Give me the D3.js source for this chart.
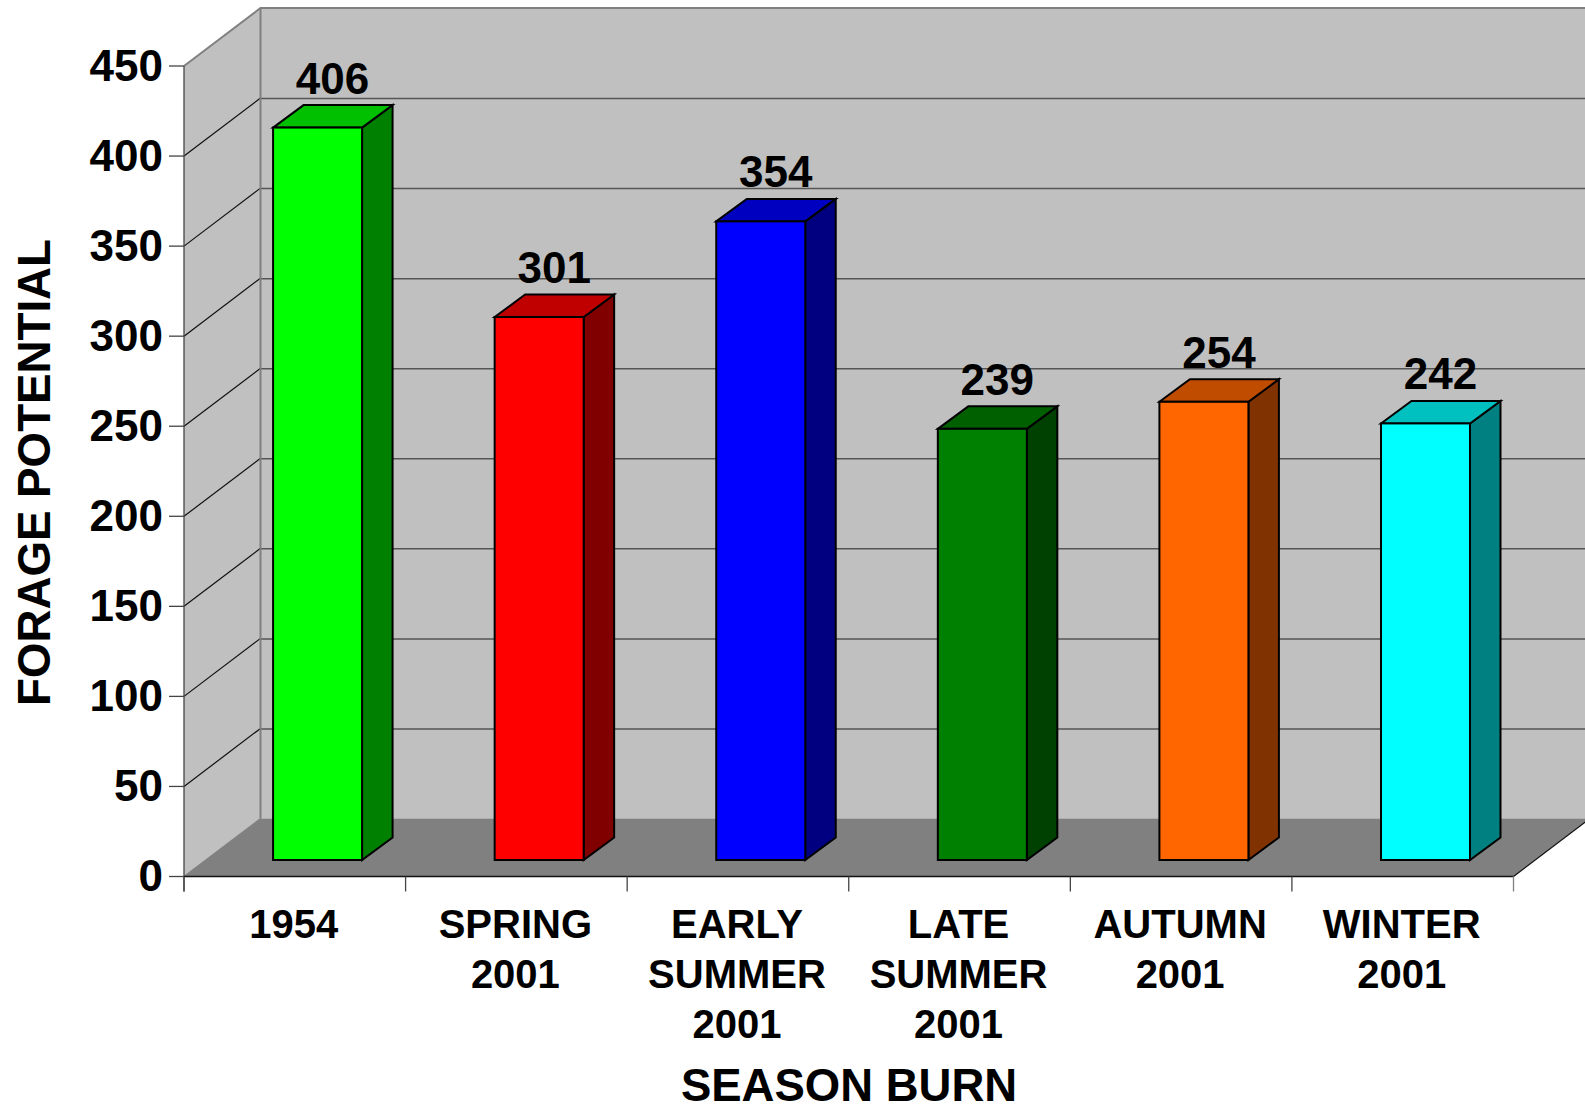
<!DOCTYPE html>
<html><head><meta charset="utf-8">
<style>html,body{margin:0;padding:0;background:#fff}svg{display:block}text{font-family:"Liberation Sans",Arial,sans-serif;font-weight:bold;fill:#000}</style>
<script src="https://cdn.jsdelivr.net/npm/d3@7"></script>
</head><body><div id="c"></div>
<script>
const categories = [["1954"],["SPRING","2001"],["EARLY","SUMMER","2001"],["LATE","SUMMER","2001"],["AUTUMN","2001"],["WINTER","2001"]];
const values = [406,301,354,239,254,242];
const frontColors = ["#00ff00","#ff0000","#0000ff","#008000","#ff6600","#00ffff"];
const topColors = ["#00c000","#c00000","#0000c0","#006000","#c04c00","#00c0c0"];
const sideColors = ["#008000","#800000","#000080","#004000","#803300","#008080"];
const yTicks = [0,50,100,150,200,250,300,350,400,450];

const W=1585,H=1105;
const svg=d3.select("#c").append("svg").attr("width",W).attr("height",H);
const x0=184,x1=1513.5,dx=76.5,dy=58;
const y=d3.scaleLinear().domain([0,450]).range([876.5,66]);
const yBar=d3.scaleLinear().domain([0,450]).range([860,860-450*1.804]);
const x=d3.scaleBand().domain(d3.range(categories.length)).range([x0,x1]);
const poly=p=>p.map(q=>q.join(",")).join(" ");

// walls
svg.append("polygon").attr("points",poly([[x0+dx,y(450)-dy],[x1+dx,y(450)-dy],[x1+dx,y(0)-dy],[x0+dx,y(0)-dy]])).attr("fill","#c0c0c0");
svg.append("polygon").attr("points",poly([[x0,y(450)],[x0+dx,y(450)-dy],[x0+dx,y(0)-dy],[x0,y(0)]])).attr("fill","#c0c0c0");
svg.append("polygon").attr("points",poly([[x0,y(0)],[x0+dx,y(0)-dy],[x1+dx,y(0)-dy],[x1,y(0)]])).attr("fill","#808080");

// back gridlines
svg.selectAll(".g").data(yTicks.slice(1,-1)).join("line")
 .attr("x1",x0+dx).attr("x2",x1+dx).attr("y1",d=>y(d)-dy+0.5).attr("y2",d=>y(d)-dy+0.5)
 .attr("stroke","#555").attr("stroke-width",1.5);
// side gridlines
svg.selectAll(".s").data(yTicks.slice(1,-1)).join("line")
 .attr("x1",x0).attr("x2",x0+dx).attr("y1",d=>y(d)).attr("y2",d=>y(d)-dy)
 .attr("stroke","#111").attr("stroke-width",1.2);
// wall outline
svg.append("path").attr("d",`M${x0},${y(450)}L${x0+dx},${y(450)-dy}L${W+10},${y(450)-dy}M${x0+dx},${y(450)-dy}V${y(0)-dy}`)
 .attr("fill","none").attr("stroke","#808080").attr("stroke-width",2);
svg.append("line").attr("x1",x0).attr("x2",x0+dx).attr("y1",y(0)).attr("y2",y(0)-dy).attr("stroke","#808080").attr("stroke-width",1.2);

// axes
svg.append("line").attr("x1",x0).attr("x2",x0).attr("y1",y(450)).attr("y2",y(0)+15).attr("stroke","#444").attr("stroke-width",1.3);
svg.selectAll(".yt").data(yTicks).join("line").attr("x1",x0-15).attr("x2",x0).attr("y1",d=>y(d)).attr("y2",d=>y(d)).attr("stroke","#444").attr("stroke-width",1.3);
svg.append("line").attr("x1",x0).attr("x2",x1).attr("y1",y(0)).attr("y2",y(0)).attr("stroke","#111").attr("stroke-width",1.6);
svg.append("line").attr("x1",x1).attr("x2",x1+dx).attr("y1",y(0)).attr("y2",y(0)-dy).attr("stroke","#111").attr("stroke-width",1.3);
svg.selectAll(".xt").data(d3.range(categories.length+1)).join("line")
 .attr("x1",d=>x0+d*x.step()).attr("x2",d=>x0+d*x.step()).attr("y1",y(0)).attr("y2",y(0)+15).attr("stroke",d=>d==categories.length?"#808080":"#444").attr("stroke-width",1.3);

// bars
const bw=89, bdx=30.5, bdy=22.5;
const bars=svg.selectAll(".b").data(values).join("g");
const bx=i=>x(i)+x.step()*0.402;
bars.append("polygon").attr("points",(d,i)=>poly([[bx(i)+bw,yBar(d)],[bx(i)+bw+bdx,yBar(d)-bdy],[bx(i)+bw+bdx,yBar(0)-bdy],[bx(i)+bw,yBar(0)]])).attr("fill",(d,i)=>sideColors[i]);
bars.append("polygon").attr("points",(d,i)=>poly([[bx(i),yBar(d)],[bx(i)+bdx,yBar(d)-bdy],[bx(i)+bw+bdx,yBar(d)-bdy],[bx(i)+bw,yBar(d)]])).attr("fill",(d,i)=>topColors[i]);
bars.append("rect").attr("x",(d,i)=>bx(i)).attr("y",d=>yBar(d)).attr("width",bw).attr("height",d=>yBar(0)-yBar(d)).attr("fill",(d,i)=>frontColors[i]);
bars.selectAll("polygon,rect").attr("stroke","#000").attr("stroke-width",2).attr("stroke-linejoin","miter");

// value labels
svg.selectAll(".v").data(values).join("text").attr("x",(d,i)=>bx(i)+bw/2+15).attr("y",d=>yBar(d)-34)
 .attr("text-anchor","middle").attr("font-size",44).text(d=>d);
// y tick labels
svg.selectAll(".yl").data(yTicks).join("text").attr("x",x0-21).attr("y",d=>y(d)+14.5)
 .attr("text-anchor","end").attr("font-size",44).text(d=>d);
// category labels
svg.selectAll(".cl").data(categories).join("text").attr("text-anchor","middle").attr("font-size",40)
 .each(function(lines,i){d3.select(this).selectAll("tspan").data(lines).join("tspan")
   .attr("x",x(i)+x.bandwidth()/2-1).attr("y",(l,k)=>938+k*50.2).text(l=>l);});
// titles
svg.append("text").attr("x",849).attr("y",1101).attr("text-anchor","middle").attr("font-size",45.5).text("SEASON BURN");
svg.append("text").attr("transform","translate(50,472.5) rotate(-90)").attr("text-anchor","middle").attr("font-size",45.7).text("FORAGE POTENTIAL");
</script></body></html>
